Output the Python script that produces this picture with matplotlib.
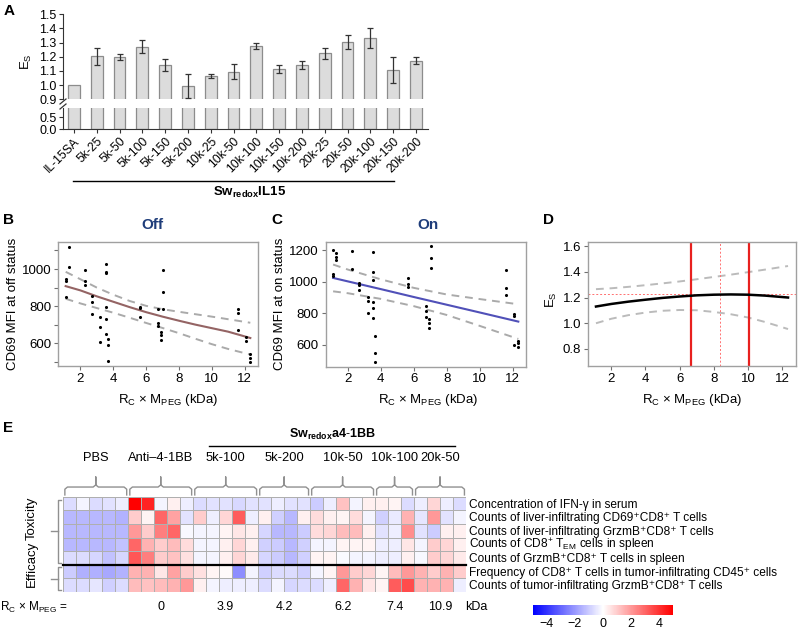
import numpy as np
import matplotlib
matplotlib.use('Agg')
import matplotlib.pyplot as plt
from matplotlib.colors import LinearSegmentedColormap
from matplotlib.lines import Line2D

plt.rcParams['font.family'] = ['Liberation Sans', 'DejaVu Sans']
plt.rcParams['mathtext.fontset'] = 'custom'
plt.rcParams['mathtext.rm'] = 'Liberation Sans'
plt.rcParams['mathtext.it'] = 'Liberation Sans:italic'
plt.rcParams['mathtext.bf'] = 'Liberation Sans:bold'

# ---------------- data ----------------
A_labels = ['IL-15SA', '5k-25', '5k-50', '5k-100', '5k-150', '5k-200', '10k-25', '10k-50',
            '10k-100', '10k-150', '10k-200', '20k-25', '20k-50', '20k-100', '20k-150', '20k-200']
A_vals = [1.00, 1.205, 1.197, 1.272, 1.142, 0.994, 1.067, 1.095, 1.276, 1.114, 1.142, 1.225,
          1.302, 1.335, 1.107, 1.173]
A_err = [0.0, 0.06, 0.02, 0.045, 0.044, 0.084, 0.015, 0.053, 0.024, 0.03, 0.026, 0.04, 0.05,
         0.07, 0.094, 0.026]

B_x = [1.1, 1.1, 1.1, 1.3, 1.3, 2.25, 2.25, 2.25, 2.7, 2.7, 2.7, 3.2, 3.2, 3.2,
       3.55, 3.55, 3.55, 3.55, 3.55, 3.55, 3.65, 3.65, 3.65, 5.65, 5.65, 5.65,
       6.75, 6.75, 6.75, 6.9, 6.9, 6.9, 7.05, 7.05, 7.05, 11.6, 11.6, 11.6,
       12.1, 12.1, 12.35, 12.35, 12.35]
B_y = [946, 935, 849, 1120, 1012, 995, 935, 912, 855, 824, 760, 742, 686, 605,
       1025, 986, 977, 794, 731, 648, 621, 591, 505, 797, 788, 742,
       785, 708, 693, 659, 647, 620, 996, 876, 785, 785, 761, 671,
       636, 611, 543, 523, 498]
B_curve_x = [1.1, 2, 3, 4, 5, 6, 7, 8, 9, 10, 11, 12.35]
B_fit = [908, 885, 853, 824, 795, 768, 744, 722, 701, 682, 663, 629]
B_upper = [985, 945, 900, 862, 828, 802, 784, 770, 757, 744, 730, 711]
B_lower = [840, 815, 790, 765, 738, 710, 683, 655, 625, 596, 570, 540]

C_x = [1.1, 1.1, 1.1, 1.3, 1.3, 1.3, 2.25, 2.25, 2.7, 2.7, 2.7, 3.2, 3.2, 3.2,
       3.55, 3.55, 3.55, 3.55, 3.55, 3.55, 3.65, 3.65, 3.65, 5.65, 5.65, 5.65,
       6.75, 6.75, 6.75, 6.9, 6.9, 6.9, 7.05, 7.05, 7.05, 11.6, 11.6, 11.6,
       12.1, 12.1, 12.1, 12.35, 12.35, 12.35]
C_y = [1200, 1053, 1040, 1183, 1158, 1141, 1194, 1084, 994, 977, 947, 905, 878, 804,
       1187, 1061, 1011, 872, 836, 773, 657, 547, 493, 1025, 987, 968,
       846, 815, 779, 762, 737, 709, 1225, 1149, 1088, 1078, 962, 914,
       794, 783, 598, 625, 615, 587]
C_curve_x = [1.1, 2, 4, 6, 8, 10, 12.35]
C_fit = [1025, 1003, 954, 904, 855, 806, 748]
C_upper = [1110, 1078, 1016, 962, 920, 891, 858]
C_lower = [940, 928, 892, 846, 790, 721, 638]

D_x = [1.1, 2, 3, 4, 5, 6, 7, 8, 9, 10, 11, 12.35]
D_fit = [1.13, 1.15, 1.168, 1.183, 1.197, 1.208, 1.217, 1.222, 1.224, 1.222, 1.215, 1.20]
D_upper = [1.265, 1.272, 1.283, 1.296, 1.31, 1.325, 1.342, 1.36, 1.378, 1.397, 1.417, 1.445]
D_lower = [1.0, 1.035, 1.063, 1.083, 1.097, 1.103, 1.101, 1.088, 1.07, 1.045, 1.01, 0.955]
D_range = [6.67, 10.06]
D_opt_x = 8.38
D_opt_y = 1.226

E_groups = ['PBS', 'Anti\u20134-1BB', '5k-100', '5k-200', '10k-50', '10k-100', '20k-50']
E_group_sizes = [5, 5, 5, 4, 5, 3, 4]
E_rcm = ['', '0', '3.9', '4.2', '6.2', '7.4', '10.9']
E_rows = ['Concentration of IFN-\u03b3 in serum',
          'Counts of liver-infiltrating CD69\u207aCD8\u207a T cells',
          'Counts of liver-infiltrating GrzmB\u207aCD8\u207a T cells',
          r'Counts of CD8$^{+}$ T$_{\mathrm{EM}}$ cells in spleen',
          'Counts of GrzmB\u207aCD8\u207a T cells in spleen',
          'Frequency of CD8\u207a T cells in tumor-infiltrating CD45\u207a cells',
          'Counts of tumor-infiltrating GrzmB\u207aCD8\u207a T cells']
row_ifng = [-0.7, -0.2, -0.7, -0.55, -0.35, 5, 4.3, -0.2, 0.3, -0.35, -0.7, -0.55, -0.55, -0.75, -0.55,
            -0.55, -0.35, -0.55, -0.55, -1.0, -0.35, 1.2, -0.2, 0.3, 0.3, 0.2, -0.7, -0.35, 0.8, -0.35, -0.7]
row_cd69 = [-1.4, -1.4, -1.4, -1.4, -1.5, 1, 0.2, 3, 1.8, -0.55, 1, -0.35, 0.8, 3.2, -0.35,
            0.3, -0.9, -1.4, 0.3, 0.7, 0.3, 0.2, 0.7, -0.2, -0.9, -0.4, 1.5, -0.5, 2, -0.55, -0.2]
row_liver_gzmb = [-1.4, -1.4, -1.4, -1.4, -1.4, 2, 1, 2.5, 3, -0.15, -0.2, -0.2, 0.2, 0.5, 0.3,
                  -0.8, -1.4, -1.4, -1.0, 0.7, 0.8, 1.3, 1.3, 0.3, -0.55, -0.35, 2.2, -0.55, -1.0, 0.3, 0.3]
row_tem = [-1.4, -1.4, -1.4, -1.4, -1.2, 3, 1.5, 1, 1.3, 0.7, -0.2, -0.2, 0.3, 0.8, 0.3,
           -0.9, -1.0, -1.4, -0.9, -0.2, -0.2, 0.2, 0.2, 0.2, -0.35, -0.35, 0.5, -0.2, 1, 0.8, 0.3]
row_spleen_gzmb = [-0.7, -0.7, -0.8, -1.2, -0.8, 3.3, 2.5, 1, 1.2, 0.6, -0.2, -0.2, 0.3, 0.8, 0.4,
                   -0.8, -1.0, -1.4, -0.9, 0.2, 0.2, -0.1, -0.2, -0.2, -0.35, -0.35, 0.3, -0.15, 1, 0.8, 0.4]
row_freq = [-1.0, -1.55, -1.55, -1.7, -1.5, 1.5, 1.5, 0.5, 1.8, 1, 0.6, 0.2, 0.1, -2.2, -0.2,
            -0.9, -0.7, -0.7, -0.9, -0.2, 0.2, 2, 1, 0.8, 0.2, 1.3, 2, 1.5, 1, 1.5, 1]
row_tumor_gzmb = [-0.7, -0.7, -0.5, -0.9, -0.7, 1.3, 1.2, 1.3, 1.5, 2, 0.3, -0.2, -0.35, -0.35, -0.35,
                  -0.7, -0.2, -0.8, -0.7, -0.7, -0.35, 3, 1.5, 0.5, 0.2, 3.2, 3.5, 1.5, 1.5, 1.5, -0.35]

# ---------------- figure ----------------
W, H = 800, 631
fig = plt.figure(figsize=(8, 6.31), dpi=100)


def rect(x0, y0, x1, y1):
    return [x0 / W, 1 - y1 / H, (x1 - x0) / W, (y1 - y0) / H]


def fx(x):
    return x / W


def fy(y):
    return 1 - y / H


def letter(x, y, s):
    fig.text(fx(x), fy(y), s, fontsize=11, fontweight='bold', ha='center', va='center')


# ---------------- Panel A ----------------
axA = fig.add_axes(rect(63, 14.3, 428, 99.3))
axA2 = fig.add_axes(rect(63, 108.3, 428, 129.3))
xpos = np.arange(len(A_labels))
for ax in (axA, axA2):
    ax.bar(xpos, A_vals, width=0.52, color='#DCDCDC', edgecolor='#8C8C8C', linewidth=0.9)
    ax.set_xlim(-0.48, 15.53)
    for s in ('top', 'right'):
        ax.spines[s].set_visible(False)
    for s in ('left', 'bottom'):
        ax.spines[s].set_color('#333333')
    ax.tick_params(direction='out', length=3, width=0.8, labelsize=9, color='#333333', pad=1.5)
errmask = np.array(A_err) > 0
axA.errorbar(xpos[errmask], np.array(A_vals)[errmask], yerr=np.array(A_err)[errmask], fmt='none',
             ecolor='#333333', elinewidth=0.9, capsize=2.5, capthick=0.9)
axA.set_ylim(0.9, 1.5)
axA.set_yticks(np.round(np.arange(0.9, 1.51, 0.1), 1))
axA.set_yticklabels(['0.9', '1.0', '1.1', '1.2', '1.3', '1.4', '1.5'])
axA.spines['bottom'].set_visible(False)
axA.set_xticks([])
axA2.set_ylim(0, 0.875)
axA2.set_yticks([0, 0.5])
axA2.set_yticklabels(['0.0', '0.5'])
axA2.set_xticks(xpos)
axA2.set_xticklabels(A_labels, rotation=45, ha='right', rotation_mode='anchor', fontsize=8.7)
# axis break marks
for yb in (101.5, 106.5):
    fig.add_artist(Line2D([fx(60), fx(66)], [fy(yb + 2.5), fy(yb - 2.5)], color='#333333', lw=0.9))
fig.text(fx(26), fy(62), r'E$_\mathrm{S}$', rotation=90, fontsize=9.5, ha='center', va='center')
fig.add_artist(Line2D([fx(73), fx(394)], [fy(181), fy(181)], color='black', lw=1))
fig.text(fx(250), fy(192), r'$\mathbf{Sw_{redox}IL15}$', ha='center', va='center', fontsize=9.5)
letter(9, 11, 'A')


# ---------------- Panels B, C, D ----------------
def style_box(ax):
    for s in ax.spines.values():
        s.set_color('#A0A0A0')
        s.set_linewidth(1)
    ax.tick_params(direction='out', length=3, color='#707070', labelsize=9.5, width=0.8, pad=2)
    ax.set_xlim(0.65, 12.8)
    ax.set_xticks([2, 4, 6, 8, 10, 12])


xlab = r'R$_\mathrm{C}$ × M$_\mathrm{PEG}$ (kDa)'

axB = fig.add_axes(rect(58.3, 241.7, 257.7, 365.7))
style_box(axB)
axB.scatter(B_x, B_y, s=5, color='black', zorder=3, linewidths=0)
axB.plot(B_curve_x, B_fit, color='#946464', lw=1.5)
axB.plot(B_curve_x, B_upper, color='#AAAAAA', lw=1.4, ls=(0, (4, 3)))
axB.plot(B_curve_x, B_lower, color='#AAAAAA', lw=1.4, ls=(0, (4, 3)))
axB.set_ylim(480, 1147)
axB.set_yticks([500, 600, 700, 800, 900, 1000, 1100])
axB.set_yticklabels(['', '600', '', '800', '', '1000', ''])
fig.text(fx(13), fy(304), 'CD69 MFI at off status', rotation=90, fontsize=9.5, ha='center', va='center')
fig.text(fx(168), fy(400), xlab, fontsize=9.5, ha='center', va='center')
fig.text(fx(152), fy(225), 'Off', fontsize=11, fontweight='bold', color='#1F3D7A', ha='center', va='center')
letter(9, 220, 'B')

axC = fig.add_axes(rect(325.7, 242, 525.7, 366.5))
style_box(axC)
axC.scatter(C_x, C_y, s=5, color='black', zorder=3, linewidths=0)
axC.plot(C_curve_x, C_fit, color='#5050B8', lw=1.5)
axC.plot(C_curve_x, C_upper, color='#AAAAAA', lw=1.4, ls=(0, (4, 3)))
axC.plot(C_curve_x, C_lower, color='#AAAAAA', lw=1.4, ls=(0, (4, 3)))
axC.set_ylim(463, 1253)
axC.set_yticks([600, 800, 1000, 1200])
fig.text(fx(280), fy(304), 'CD69 MFI at on status', rotation=90, fontsize=9.5, ha='center', va='center')
fig.text(fx(428), fy(400), xlab, fontsize=9.5, ha='center', va='center')
fig.text(fx(428), fy(225), 'On', fontsize=11, fontweight='bold', color='#1F3D7A', ha='center', va='center')
letter(277, 220, 'C')

axD = fig.add_axes(rect(588.3, 241.7, 795.7, 365.7))
style_box(axD)
axD.plot(D_x, D_upper, color='#BBBBBB', lw=1.4, ls=(0, (4, 3)))
axD.plot(D_x, D_lower, color='#BBBBBB', lw=1.4, ls=(0, (4, 3)))
axD.axhline(D_opt_y, color='#FF7070', lw=0.7, ls=(0, (2, 2)))
axD.axvline(D_opt_x, color='#FF7070', lw=0.7, ls=(0, (2, 2)))
for xv in D_range:
    axD.axvline(xv, color='#E8201E', lw=1.6)
axD.plot(D_x, D_fit, color='black', lw=1.8)
axD.set_ylim(0.67, 1.634)
axD.set_yticks([0.8, 1.0, 1.2, 1.4, 1.6])
axD.set_yticklabels(['0.8', '1.0', '1.2', '1.4', '1.6'])
fig.text(fx(551), fy(300), r'E$_\mathrm{S}$', rotation=90, fontsize=9.5, ha='center', va='center')
fig.text(fx(692), fy(400), xlab, fontsize=9.5, ha='center', va='center')
letter(548, 220, 'D')

# ---------------- Panel E ----------------
axE = fig.add_axes(rect(63.3, 496.7, 466, 592))
heat = np.array([row_ifng, row_cd69, row_liver_gzmb, row_tem, row_spleen_gzmb, row_freq, row_tumor_gzmb])
cmap = LinearSegmentedColormap.from_list('bwr2', ['#0000FF', '#FFFFFF', '#FF0000'])
mesh = axE.pcolormesh(heat, cmap=cmap, vmin=-5, vmax=5, edgecolors='#AFAFAF', linewidth=0.5)
ncol = heat.shape[1]
axE.set_xlim(0, ncol)
axE.set_ylim(heat.shape[0], 0)
axE.axis('off')
axE.plot([0, ncol], [5, 5], color='black', lw=1.6, clip_on=False)

starts = np.concatenate([[0], np.cumsum(E_group_sizes)[:-1]])
ends = np.cumsum(E_group_sizes)
for name, s, e, r in zip(E_groups, starts, ends, E_rcm):
    x0, x1, xc = s + 0.12, e - 0.12, (s + e) / 2
    bx = [x0, x0, x0 + 0.2, xc - 0.2, xc, xc, xc, xc + 0.2, x1 - 0.2, x1, x1]
    by = [-0.13, -0.55, -0.71, -0.71, -0.87, -1.45, -0.87, -0.71, -0.71, -0.55, -0.13]
    axE.plot(bx, by, color='#909090', lw=1.0, clip_on=False)
    axE.text(xc, -2.85, name, ha='center', va='center', fontsize=9.3)
    if r:
        axE.text(xc, 8.1, r, ha='center', va='center', fontsize=9)
axE.plot([11.2, 30.15], [-3.73, -3.73], color='black', lw=1, clip_on=False)
axE.text(20.7, -4.6, r'$\mathbf{Sw_{redox}a4\text{-}1BB}$', ha='center', va='center', fontsize=9)
for i, lab in enumerate(E_rows):
    axE.text(ncol + 0.2, i + 0.8, lab, ha='left', va='baseline', fontsize=8.6)
axE.text(-4.87, 8.1, r'R$_\mathrm{C}$ × M$_\mathrm{PEG}$ =', ha='left', va='center', fontsize=8.5)
axE.text(31.8, 8.1, 'kDa', ha='center', va='center', fontsize=9)

# Toxicity / Efficacy brackets
for (y0, y1, lab, ty) in [(0.22, 4.85, 'Toxicity', 1.6), (5.17, 6.85, 'Efficacy', 4.95)]:
    ym = (y0 + y1) / 2
    axE.plot([-0.2, -0.41, -0.41, -0.2], [y0, y0, y1, y1], color='#909090', lw=1.0, clip_on=False)
    axE.plot([-0.41, -0.95], [ym, ym], color='#909090', lw=1.0, clip_on=False)
    axE.text(-2.4, ty, lab, rotation=90, ha='center', va='center', fontsize=9.5)
letter(8, 428, 'E')

# colorbar
cax = fig.add_axes(rect(533, 605, 673, 615))
cb = fig.colorbar(mesh, cax=cax, orientation='horizontal', ticks=[-4, -2, 0, 2, 4])
cb.outline.set_visible(False)
cax.tick_params(length=0, labelsize=9, pad=2)

fig.savefig('out.png', dpi=100)
